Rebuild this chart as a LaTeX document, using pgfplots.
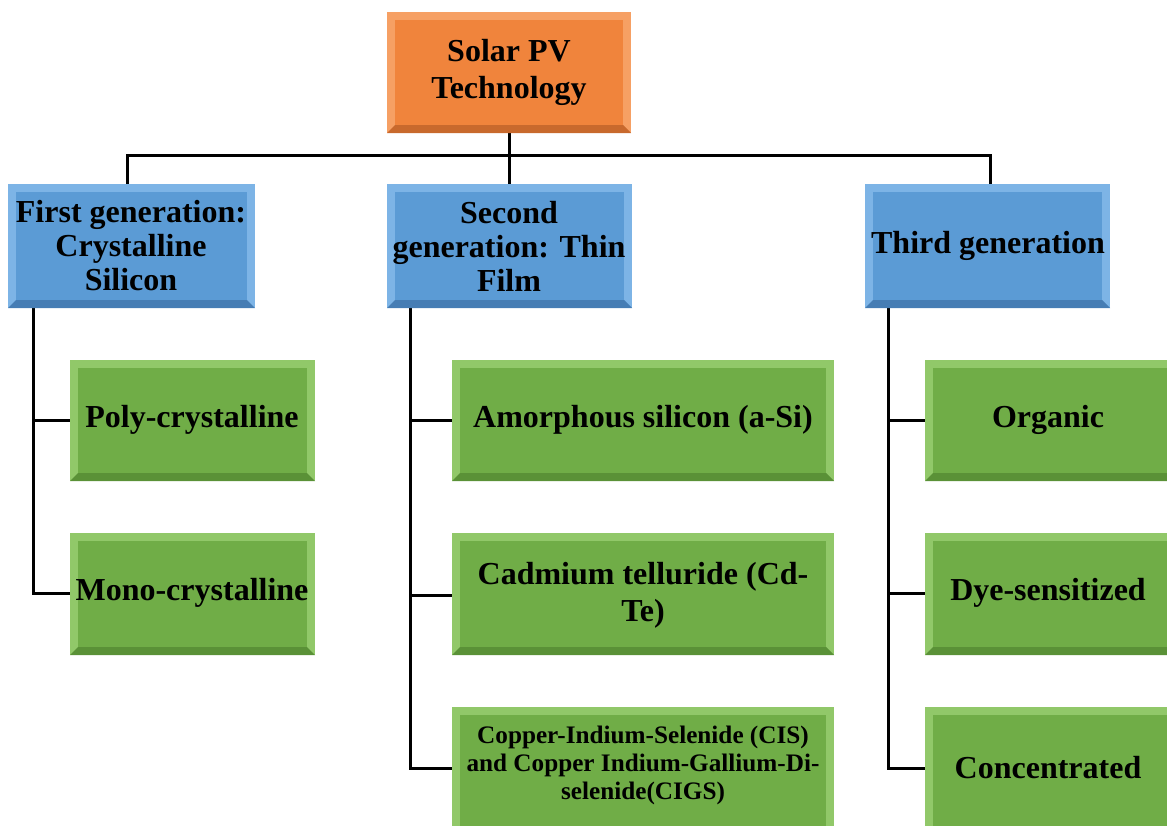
\documentclass[border=0pt]{standalone}
\usepackage{pgfplots}
\pgfplotsset{compat=1.18}
\usepackage{fontspec}
\setmainfont{Liberation Serif}
\definecolor{orM}{RGB}{240,132,60}
\definecolor{orL}{RGB}{246,160,100}
\definecolor{orD}{RGB}{200,105,45}
\definecolor{blM}{RGB}{91,155,213}
\definecolor{blL}{RGB}{125,180,230}
\definecolor{blD}{RGB}{70,125,180}
\definecolor{grM}{RGB}{112,173,71}
\definecolor{grL}{RGB}{145,200,105}
\definecolor{grD}{RGB}{90,145,55}
\tikzset{bt/.style={font=\bfseries\fontsize{16}{17}\selectfont, align=center, text=black, inner sep=0pt}}
% bevelled box: x1,y1,x2,y2,colour prefix
\newcommand{\pbox}[5]{%
  \addplot[draw=none,fill=#5L] coordinates {(#1,#2) (#3,#2) (#3,#4) (#1,#4)} -- cycle;
  \addplot[draw=none,fill=#5D] coordinates {(#1,#4) (#3,#4) (#3-8,#4-8) (#1+8,#4-8)} -- cycle;
  \addplot[draw=none,fill=#5M] coordinates {(#1+8,#2+8) (#3-8,#2+8) (#3-8,#4-8) (#1+8,#4-8)} -- cycle;
}
\begin{document}
\begin{tikzpicture}
\begin{axis}[
  width=583.5pt, height=412.5pt, scale only axis,
  xmin=0, xmax=1167, ymin=0, ymax=825, y dir=reverse,
  hide axis, clip=true,
]
% connectors
\addplot[black, line width=1.5pt] coordinates {(509,133) (509,155)};
\addplot[black, line width=1.5pt] coordinates {(127,184) (127,155) (990,155) (990,184)};
\addplot[black, line width=1.5pt] coordinates {(509,155) (509,184)};
\addplot[black, line width=1.5pt] coordinates {(33,308) (33,593) (70,593)};
\addplot[black, line width=1.5pt] coordinates {(33,420) (70,420)};
\addplot[black, line width=1.5pt] coordinates {(410,308) (410,768) (452,768)};
\addplot[black, line width=1.5pt] coordinates {(410,420) (452,420)};
\addplot[black, line width=1.5pt] coordinates {(410,595) (452,595)};
\addplot[black, line width=1.5pt] coordinates {(888,308) (888,768) (925,768)};
\addplot[black, line width=1.5pt] coordinates {(888,420) (925,420)};
\addplot[black, line width=1.5pt] coordinates {(888,593) (925,593)};
% boxes
\pbox{387}{12}{631}{133}{or}
\pbox{8}{184}{255}{308}{bl}
\pbox{387}{184}{632}{308}{bl}
\pbox{865}{184}{1110}{308}{bl}
\pbox{70}{360}{315}{481}{gr}
\pbox{70}{533}{315}{655}{gr}
\pbox{452}{360}{834}{481}{gr}
\pbox{452}{533}{834}{655}{gr}
\pbox{452}{707}{834}{840}{gr}
\pbox{925}{360}{1177}{481}{gr}
\pbox{925}{533}{1177}{655}{gr}
\pbox{925}{707}{1177}{840}{gr}
% texts
\node[bt, font=\bfseries\fontsize{16}{18.5}\selectfont] at (axis cs:509,72) {Solar PV\\Technology};
\node[bt] at (axis cs:131,246) {First generation:\\Crystalline\\Silicon};
\node[bt] at (axis cs:509,246) {Second\\generation: Thin\\Film};
\node[bt] at (axis cs:988,246) {Third generation};
\node[bt] at (axis cs:192,420) {Poly-crystalline};
\node[bt] at (axis cs:192,593) {Mono-crystalline};
\node[bt] at (axis cs:643,420) {Amorphous silicon (a-Si)};
\node[bt, font=\bfseries\fontsize{16}{18.5}\selectfont] at (axis cs:643,595) {Cadmium telluride (Cd-\\Te)};
\node[bt, font=\bfseries\fontsize{12.6}{14}\selectfont] at (axis cs:643,765) {Copper-Indium-Selenide (CIS)\\and Copper Indium-Gallium-Di-\\selenide(CIGS)};
\node[bt] at (axis cs:1048,420) {Organic};
\node[bt] at (axis cs:1048,593) {Dye-sensitized};
\node[bt] at (axis cs:1048,768) {Concentrated};
\end{axis}
\pgfresetboundingbox
\useasboundingbox (current axis.south west) rectangle (current axis.north east);
\end{tikzpicture}
\end{document}
